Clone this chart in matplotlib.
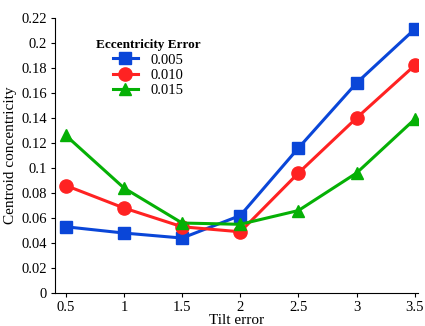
import matplotlib
matplotlib.use("Agg")
import matplotlib.pyplot as plt

plt.rcParams['font.family'] = ['Liberation Serif', 'DejaVu Serif']

tilt = [0.5, 1, 1.5, 2, 2.5, 3, 3.5]
ecc_labels = ['0.005', '0.010', '0.015']
ecc_005 = [0.053, 0.048, 0.044, 0.062, 0.116, 0.168, 0.211]
ecc_010 = [0.086, 0.068, 0.053, 0.049, 0.096, 0.140, 0.182]
ecc_015 = [0.126, 0.084, 0.056, 0.055, 0.066, 0.096, 0.139]

colors = ['#0a46d8', '#ff2222', '#05b005']
markers = ['s', 'o', '^']

fig = plt.figure(figsize=(4.25, 3.26), dpi=100)
ax = fig.add_axes([0.129, 0.101, 0.855, 0.844])

for vals, lab, c, m in zip([ecc_005, ecc_010, ecc_015], ecc_labels, colors, markers):
    ax.plot(tilt, vals, color=c, marker=m, markersize=9 if m != 'o' else 9.5,
            linewidth=2.2, label=lab)

ax.set_xlim(0.405, 3.53)
ax.set_ylim(0, 0.22)
ax.set_xticks(tilt)
ax.set_xticklabels(['0.5', '1', '1.5', '2', '2.5', '3', '3.5'])
ax.set_yticks([i * 0.02 for i in range(12)])
ax.set_yticklabels(['0', '0.02', '0.04', '0.06', '0.08', '0.1', '0.12', '0.14',
                    '0.16', '0.18', '0.2', '0.22'])
ax.tick_params(labelsize=10.5, direction='out', length=3, width=0.8, colors='black', pad=2.5)
ax.spines['top'].set_visible(False)
ax.spines['right'].set_visible(False)
ax.set_xlabel('Tilt error', fontsize=11, labelpad=0)
ax.set_ylabel('Centroid concentricity', fontsize=11, labelpad=3)

leg = ax.legend(title='Eccentricity Error', loc='upper left', bbox_to_anchor=(0.085, 0.96),
                frameon=False, fontsize=10.5, handlelength=1.7, labelspacing=0.15,
                handletextpad=0.9, borderpad=0.2)
leg.get_title().set_fontweight('bold')
leg.get_title().set_fontsize(9.5)

fig.savefig('out.png', dpi=100)
